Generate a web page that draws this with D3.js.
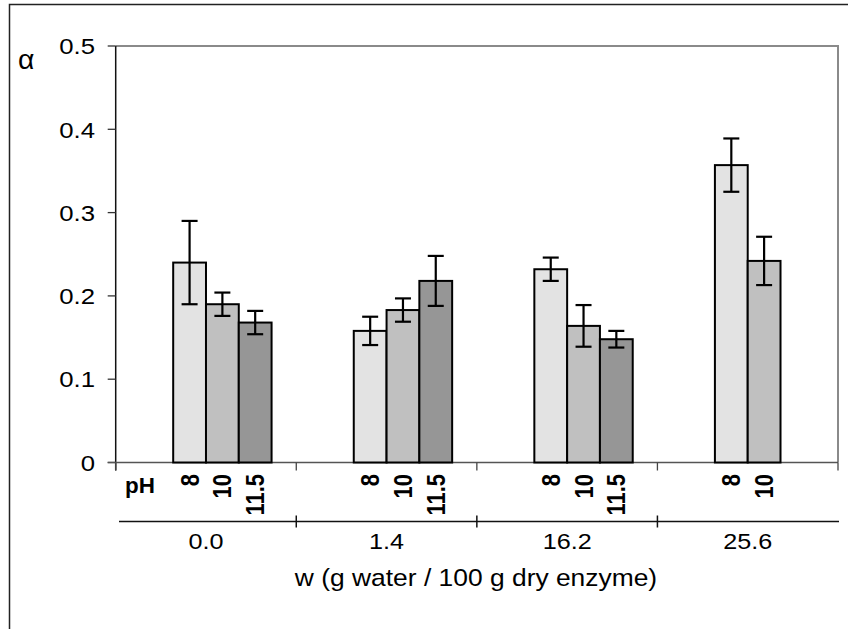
<!DOCTYPE html>
<html>
<head>
<meta charset="utf-8">
<script src="https://cdn.jsdelivr.net/npm/d3@7"></script>
<style>
  html, body { margin: 0; padding: 0; background: #fff; }
  svg text { font-family: Arial, "Liberation Sans", sans-serif; fill: #000; }
</style>
</head>
<body>
<svg id="chart" width="848" height="629"></svg>
<script>
// ---- data ----
const categories = ["0.0", "1.4", "16.2", "25.6"];
const phLabels = ["8", "10", "11.5"];
const values8   = [0.240, 0.158, 0.232, 0.357];
const values10  = [0.190, 0.183, 0.164, 0.242];
const values115 = [0.168, 0.218, 0.148, null];
const err8   = [0.050, 0.017, 0.014, 0.032];
const err10  = [0.014, 0.014, 0.025, 0.029];
const err115 = [0.014, 0.030, 0.010, null];
const yTicks = [0, 0.1, 0.2, 0.3, 0.4, 0.5];
const yTickLabels = ["0", "0.1", "0.2", "0.3", "0.4", "0.5"];
const yLabel = "α";
const xTitle = "w (g water / 100 g dry enzyme)";
const phTitle = "pH";

// ---- layout ----
const svg = d3.select("#chart");
const L = 115.7, R = 838, T = 46, B = 462.5;
const colors = ["#e3e3e3", "#c0c0c0", "#969696"];
const seriesVals = [values8, values10, values115];
const seriesErr = [err8, err10, err115];

const x0 = d3.scaleBand().domain(categories).range([L, R]);
const slots = ["pH"].concat(phLabels);
const x1 = d3.scaleBand().domain(slots).range([0, x0.bandwidth()]).paddingInner(0).paddingOuter(0.753);
const y = d3.scaleLinear().domain([0, 0.5]).range([B, T]);

function stext(g, x, yy, txt, opts) {
  opts = opts || {};
  const s = opts.s || 1;
  const t = g.append("text")
    .attr("transform", `translate(${x},${yy}) scale(${s},1)` + (opts.rot ? ` rotate(${opts.rot})` : ""))
    .attr("font-size", opts.size || 22)
    .attr("text-anchor", opts.anchor || "start")
    .text(txt);
  if (opts.bold) t.attr("font-weight", "bold");
  if (opts.dy) t.attr("dy", opts.dy);
  return t;
}

// outer frame (clipped at right/bottom)
svg.append("path").attr("d", `M9.5,629 L9.5,4.5 L848,4.5`)
  .attr("fill", "none").attr("stroke", "#222").attr("stroke-width", 1.5);

// plot border (top/right gray)
svg.append("path").attr("d", `M${L},${T} L${R},${T} L${R},${B}`)
  .attr("fill", "none").attr("stroke", "#8a8a8a").attr("stroke-width", 2);

// y axis
const yAxis = svg.append("g");
yAxis.append("line").attr("x1", L).attr("x2", L).attr("y1", T).attr("y2", B + 8)
  .attr("stroke", "#111").attr("stroke-width", 1.5);
yTicks.forEach((v, i) => {
  yAxis.append("line").attr("x1", L - 8).attr("x2", L).attr("y1", y(v)).attr("y2", y(v))
    .attr("stroke", "#333").attr("stroke-width", 1.3);
  stext(yAxis, 95, y(v), yTickLabels[i], { anchor: "end", dy: "0.36em", size: 23, s: 1.12 });
});
stext(svg, 18, 69, yLabel, { size: 27, s: 1.05 });

// x axis (zero line)
svg.append("line").attr("x1", L - 8).attr("x2", R).attr("y1", B).attr("y2", B)
  .attr("stroke", "#555").attr("stroke-width", 1.5);
const bounds = categories.map(c => x0(c)).concat([R]);
bounds.forEach(bx => {
  svg.append("line").attr("x1", bx).attr("x2", bx).attr("y1", B).attr("y2", B + 8)
    .attr("stroke", "#444").attr("stroke-width", 1.3);
});

// bars
const gBars = svg.append("g");
categories.forEach((c, ci) => {
  phLabels.forEach((ph, si) => {
    const v = seriesVals[si][ci];
    if (v == null) return;
    gBars.append("rect")
      .attr("x", x0(c) + x1(ph))
      .attr("y", y(v))
      .attr("width", x1.bandwidth())
      .attr("height", y(0) - y(v))
      .attr("fill", colors[si])
      .attr("stroke", "#000").attr("stroke-width", 2);
  });
});

// error bars
const gErr = svg.append("g");
categories.forEach((c, ci) => {
  phLabels.forEach((ph, si) => {
    const v = seriesVals[si][ci], e = seriesErr[si][ci];
    if (v == null) return;
    const cx = x0(c) + x1(ph) + x1.bandwidth() / 2;
    gErr.append("line").attr("x1", cx).attr("x2", cx).attr("y1", y(v + e)).attr("y2", y(v - e))
      .attr("stroke", "#000").attr("stroke-width", 2.2);
    [v + e, v - e].forEach(w => {
      gErr.append("line").attr("x1", cx - 8).attr("x2", cx + 8).attr("y1", y(w)).attr("y2", y(w))
        .attr("stroke", "#000").attr("stroke-width", 2.2);
    });
  });
});

// pH labels
stext(svg, 125, 493, phTitle, { bold: true, size: 22, s: 1.02 });
categories.forEach((c, ci) => {
  phLabels.forEach((ph, si) => {
    if (seriesVals[si][ci] == null) return;
    const cx = x0(c) + x1(ph) + x1.bandwidth() / 2;
    stext(svg, cx + 9, 474, ph, { bold: true, size: 22, s: 1.15, rot: -90, anchor: "end" });
  });
});

// lower category line
const lowY = 521.5;
svg.append("line").attr("x1", 119).attr("x2", 839).attr("y1", lowY).attr("y2", lowY)
  .attr("stroke", "#111").attr("stroke-width", 1.5);
categories.slice(1).forEach(c => {
  svg.append("line").attr("x1", x0(c)).attr("x2", x0(c)).attr("y1", lowY - 6).attr("y2", lowY + 6)
    .attr("stroke", "#111").attr("stroke-width", 1.5);
});
categories.forEach(c => {
  stext(svg, x0(c) + x0.bandwidth() / 2, 548.5, c, { anchor: "middle", size: 22.5, s: 1.12 });
});

// x title
stext(svg, 476, 586, xTitle, { anchor: "middle", size: 24, s: 1.1 });
</script>
</body>
</html>
